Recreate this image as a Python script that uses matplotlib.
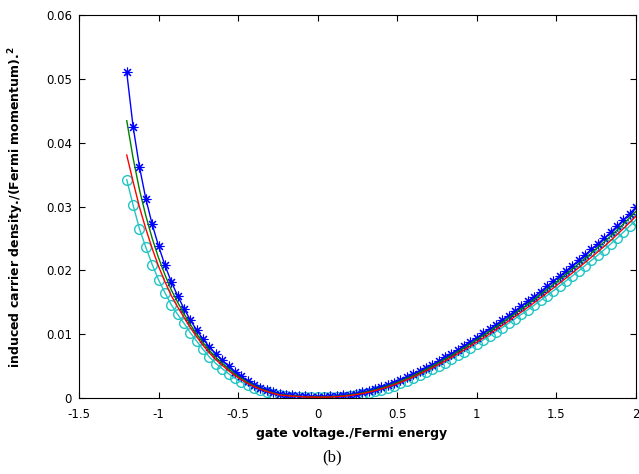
import matplotlib
matplotlib.use("Agg")
import matplotlib.pyplot as plt
import numpy as np

plt.rcParams['font.family'] = ['DejaVu Sans']
plt.rcParams['mathtext.fontset'] = 'dejavusans'

# gate voltage / Fermi energy grid (81 samples, -1.2 .. 2.0)
x_start, x_step, n_pts = -1.2, 0.04, 81

blue_vals = [
    0.05100, 0.04250, 0.03620, 0.03120, 0.02720, 0.02380, 0.02080, 0.01820, 0.01600, 0.01400,
    0.01220, 0.01060, 0.00920, 0.00800, 0.00690, 0.00590, 0.00500, 0.00410, 0.00340, 0.00270,
    0.00210, 0.00160, 0.00120, 0.00090, 0.00060, 0.00050, 0.00040, 0.00030, 0.00025, 0.00020,
    0.00020, 0.00021, 0.00025, 0.00031, 0.00041, 0.00054, 0.00070, 0.00090, 0.00113, 0.00140,
    0.00170, 0.00204, 0.00241, 0.00281, 0.00324, 0.00370, 0.00419, 0.00470, 0.00523, 0.00578,
    0.00635, 0.00694, 0.00755, 0.00817, 0.00881, 0.00946, 0.01013, 0.01081, 0.01150, 0.01220,
    0.01292, 0.01365, 0.01439, 0.01514, 0.01590, 0.01668, 0.01747, 0.01827, 0.01908, 0.01990,
    0.02073, 0.02157, 0.02242, 0.02328, 0.02415, 0.02503, 0.02595, 0.02690, 0.02788, 0.02888,
    0.02990,
]

green_vals = [
    0.04344, 0.03758, 0.03261, 0.02854, 0.02500, 0.02195, 0.01930, 0.01694, 0.01499, 0.01320,
    0.01150, 0.01001, 0.00864, 0.00744, 0.00638, 0.00545, 0.00458, 0.00375, 0.00309, 0.00246,
    0.00193, 0.00146, 0.00110, 0.00080, 0.00053, 0.00043, 0.00033, 0.00027, 0.00020, 0.00017,
    0.00017, 0.00017, 0.00021, 0.00026, 0.00035, 0.00047, 0.00061, 0.00080, 0.00102, 0.00128,
    0.00156, 0.00189, 0.00225, 0.00264, 0.00306, 0.00350, 0.00398, 0.00448, 0.00499, 0.00553,
    0.00609, 0.00666, 0.00726, 0.00787, 0.00849, 0.00913, 0.00979, 0.01045, 0.01113, 0.01182,
    0.01252, 0.01324, 0.01397, 0.01470, 0.01545, 0.01622, 0.01699, 0.01778, 0.01858, 0.01939,
    0.02020, 0.02103, 0.02187, 0.02271, 0.02357, 0.02444, 0.02534, 0.02628, 0.02725, 0.02823,
    0.02924,
]

red_vals = [
    0.03806, 0.03389, 0.02990, 0.02649, 0.02342, 0.02062, 0.01822, 0.01604, 0.01426, 0.01262,
    0.01100, 0.00958, 0.00824, 0.00704, 0.00600, 0.00512, 0.00428, 0.00350, 0.00286, 0.00228,
    0.00180, 0.00136, 0.00102, 0.00072, 0.00048, 0.00038, 0.00028, 0.00024, 0.00016, 0.00014,
    0.00013, 0.00013, 0.00016, 0.00020, 0.00028, 0.00038, 0.00052, 0.00069, 0.00089, 0.00114,
    0.00141, 0.00172, 0.00206, 0.00244, 0.00284, 0.00327, 0.00374, 0.00422, 0.00472, 0.00524,
    0.00578, 0.00634, 0.00693, 0.00752, 0.00813, 0.00875, 0.00939, 0.01004, 0.01070, 0.01138,
    0.01207, 0.01277, 0.01348, 0.01420, 0.01493, 0.01569, 0.01645, 0.01722, 0.01800, 0.01879,
    0.01959, 0.02041, 0.02123, 0.02206, 0.02290, 0.02375, 0.02464, 0.02557, 0.02652, 0.02749,
    0.02848,
]

cyan_vals = [
    0.03420, 0.03020, 0.02650, 0.02360, 0.02090, 0.01850, 0.01650, 0.01460, 0.01310, 0.01170,
    0.01020, 0.00890, 0.00760, 0.00640, 0.00540, 0.00460, 0.00380, 0.00310, 0.00250, 0.00200,
    0.00160, 0.00120, 0.00090, 0.00060, 0.00040, 0.00030, 0.00020, 0.00020, 0.00010, 0.00010,
    0.00010, 0.00010, 0.00012, 0.00016, 0.00023, 0.00032, 0.00044, 0.00060, 0.00079, 0.00103,
    0.00129, 0.00159, 0.00192, 0.00229, 0.00268, 0.00310, 0.00355, 0.00402, 0.00451, 0.00502,
    0.00555, 0.00610, 0.00667, 0.00725, 0.00785, 0.00846, 0.00909, 0.00973, 0.01038, 0.01104,
    0.01172, 0.01241, 0.01311, 0.01382, 0.01454, 0.01528, 0.01603, 0.01679, 0.01756, 0.01834,
    0.01913, 0.01993, 0.02074, 0.02156, 0.02239, 0.02323, 0.02411, 0.02502, 0.02596, 0.02692,
    0.02790,
]

x_ticks = [-1.5, -1, -0.5, 0, 0.5, 1, 1.5, 2]
x_tick_labels = ['-1.5', '-1', '-0.5', '0', '0.5', '1', '1.5', '2']
y_ticks = [0, 0.01, 0.02, 0.03, 0.04, 0.05, 0.06]
y_tick_labels = ['0', '0.01', '0.02', '0.03', '0.04', '0.05', '0.06']

x = x_start + x_step * np.arange(n_pts)

W, H = 639, 474
fig = plt.figure(figsize=(W / 100, H / 100), dpi=100)
ax = fig.add_axes([79 / W, (H - 398) / H, 557 / W, 383 / H])

ax.plot(x, cyan_vals, '-', color='#22c4c4', lw=1.0, marker='o', ms=7,
        mfc='none', mec='#22c4c4', mew=1.0)
ax.plot(x, blue_vals, '-', color='#0000ff', lw=1.0, marker=(8, 2, 0), ms=7,
        mfc='#0000ff', mec='#0000ff', mew=0.8)
ax.plot(x, green_vals, '-', color='#008000', lw=1.0)
ax.plot(x, red_vals, '-', color='#ff0000', lw=1.0)

ax.set_xlim(-1.5, 2)
ax.set_ylim(0, 0.06)
ax.set_xticks(x_ticks)
ax.set_xticklabels(x_tick_labels)
ax.set_yticks(y_ticks)
ax.set_yticklabels(y_tick_labels)
ax.tick_params(direction='in', length=4, width=0.8, labelsize=8.5, top=True, right=True,
               labeltop=False, labelright=False)
ax.tick_params(axis='x', pad=7)
ax.tick_params(axis='y', pad=5)
for s in ax.spines.values():
    s.set_linewidth(0.8)

fig.text(352 / W, 1 - 437 / H, 'gate voltage./Fermi energy', ha='center', va='baseline',
         fontsize=9, fontweight='bold')
fig.text(16 / W, 1 - 207 / H,
         r'induced carrier density./(Fermi momentum).$^{\mathbf{2}}$',
         ha='center', va='center', rotation=90, fontsize=9, fontweight='bold')

fig.text(332 / W, 1 - 457 / H, '(b)', ha='center', va='center',
         fontsize=12, family=['Liberation Serif', 'DejaVu Serif'])

fig.savefig('out.png', dpi=100)
